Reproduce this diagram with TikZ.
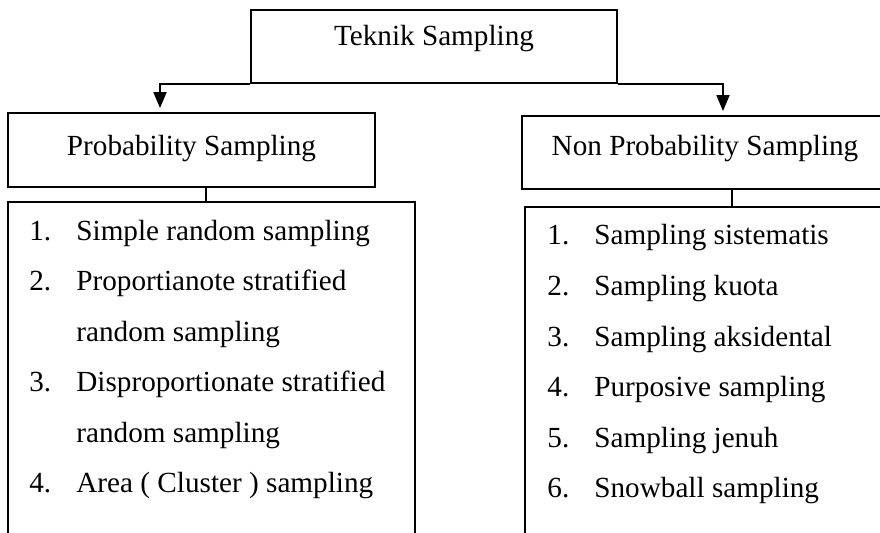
\documentclass[tikz,border=0pt]{standalone}
\usepackage{fontspec}
\setmainfont{Liberation Serif}
\usetikzlibrary{arrows.meta}
\tikzset{
  titlebox/.style={draw, line width=0.9pt, rectangle, inner sep=0pt,
    font=\fontsize{14.6pt}{17pt}\selectfont, text height=10pt},
  listbox/.style={draw, line width=0.9pt, rectangle, inner sep=0pt},
  itemtxt/.style={anchor=base west, inner sep=0pt, font=\fontsize{14.6pt}{17pt}\selectfont},
  arr/.style={line width=0.9pt, -{Triangle[width=6.5pt,length=8pt]}, shorten >=2pt},
  conn/.style={line width=0.9pt}
}
\begin{document}
\begin{tikzpicture}[x=0.5pt,y=-0.5pt]
\useasboundingbox (0,0) rectangle (880,533);
% title boxes
\node[titlebox, minimum width=183pt, minimum height=36.5pt, text depth=10.5pt] (top) at (434,46.5) {Teknik Sampling};
\node[titlebox, minimum width=183.5pt, minimum height=37pt, text depth=4pt] (pb) at (191.5,150) {Probability Sampling};
\node[titlebox, minimum width=183pt, minimum height=36.5pt, text depth=6.5pt] (npb) at (705,152.5) {Non Probability Sampling};
% list boxes (open at the bottom: they run past the page edge)
\node[listbox, minimum width=203.5pt, minimum height=179pt] (pl) at (211.5,381) {};
\node[listbox, minimum width=182.5pt, minimum height=176.5pt] (npl) at (707.5,383.5) {};
% arrows
\coordinate (a1) at (160,0);
\coordinate (a2) at (723,0);
\draw[arr] (top.south west) -| (a1 |- pb.north);
\draw[arr] (top.south east) -| (a2 |- npb.north);
% connectors to lists
\coordinate (c1) at (206,0);
\coordinate (c2) at (732,0);
\draw[conn] (c1 |- pb.south) -- (c1 |- pl.north);
\draw[conn] (c2 |- npb.south) -- (c2 |- npl.north);
% left list
\node[itemtxt] (pn1) at (29,240.5) {1.};
\node[itemtxt] (pt1) at (76,240.5) {Simple random sampling};
\node[itemtxt] (pn2) at (29,291) {2.};
\node[itemtxt] (pt2) at (76,291) {Proportianote stratified};
\node[itemtxt] (pt2b) at (76,341.5) {random sampling};
\node[itemtxt] (pn3) at (29,392) {3.};
\node[itemtxt] (pt3) at (76,392) {Disproportionate stratified};
\node[itemtxt] (pt3b) at (76,442.5) {random sampling};
\node[itemtxt] (pn4) at (29,493) {4.};
\node[itemtxt] (pt4) at (76,493) {Area ( Cluster ) sampling};
% right list
\node[itemtxt] (nn1) at (547,245) {1.};
\node[itemtxt] (nt1) at (594,245) {Sampling sistematis};
\node[itemtxt] (nn2) at (547,295.6) {2.};
\node[itemtxt] (nt2) at (594,295.6) {Sampling kuota};
\node[itemtxt] (nn3) at (547,346.2) {3.};
\node[itemtxt] (nt3) at (594,346.2) {Sampling aksidental};
\node[itemtxt] (nn4) at (547,396.8) {4.};
\node[itemtxt] (nt4) at (594,396.8) {Purposive sampling};
\node[itemtxt] (nn5) at (547,447.4) {5.};
\node[itemtxt] (nt5) at (594,447.4) {Sampling jenuh};
\node[itemtxt] (nn6) at (547,498) {6.};
\node[itemtxt] (nt6) at (594,498) {Snowball sampling};
\end{tikzpicture}
\end{document}
